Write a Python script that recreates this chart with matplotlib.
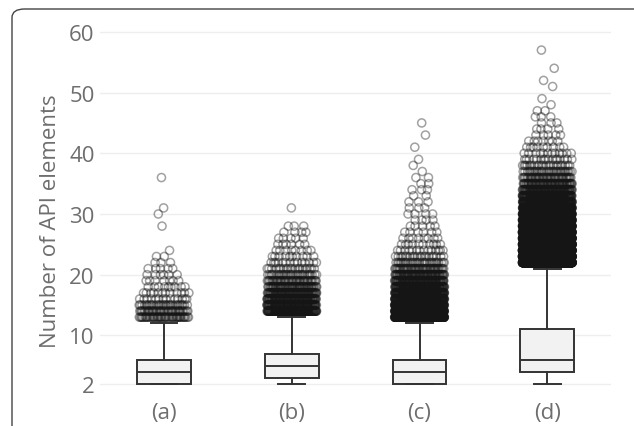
import numpy as np
import matplotlib.pyplot as plt
from matplotlib.patches import FancyBboxPatch

plt.rcParams['font.family'] = ['Open Sans', 'DejaVu Sans']

categories = ["(a)", "(b)", "(c)", "(d)"]
q1 = [2, 3, 2, 4]
medians = [4, 5, 4, 6]
q3 = [6, 7, 6, 11]
whisker_low = [2, 2, 2, 2]
whisker_high = [12, 13, 12, 21]
y_ticks = [2, 10, 20, 30, 40, 50, 60]

# outliers: value -> count (read from point density)
outliers_a = {13: 45, 14: 40, 15: 30, 16: 14, 17: 12, 18: 9, 19: 7, 20: 6,
              21: 5, 22: 3, 23: 2, 24: 1, 28: 1, 30: 1, 31: 1, 36: 1}
outliers_b = {14: 150, 15: 130, 16: 110, 17: 90, 18: 60, 19: 45, 20: 30,
              21: 20, 22: 14, 23: 10, 24: 8, 25: 6, 26: 5, 27: 4, 28: 3, 31: 1}
outliers_c = {13: 400, 14: 350, 15: 300, 16: 250, 17: 200, 18: 150, 19: 110,
              20: 80, 21: 50, 22: 30, 23: 20, 24: 14, 25: 10, 26: 8, 27: 6,
              28: 5, 29: 4, 30: 4, 31: 3, 32: 3, 33: 2, 34: 3, 35: 2, 36: 2,
              37: 1, 38: 1, 39: 1, 41: 1, 43: 1, 45: 1}
outliers_d = {22: 1000, 23: 950, 24: 900, 25: 820, 26: 740, 27: 650, 28: 560,
              29: 470, 30: 380, 31: 300, 32: 230, 33: 170, 34: 110, 35: 70,
              36: 45, 37: 32, 38: 22, 39: 16, 40: 12, 41: 9, 42: 7, 43: 5,
              44: 4, 45: 3, 46: 3, 47: 2, 48: 1, 49: 1, 51: 1, 52: 1, 54: 1, 57: 1}
all_outliers = [outliers_a, outliers_b, outliers_c, outliers_d]

fig = plt.figure(figsize=(6.34, 4.27), dpi=100)
ax = fig.add_axes([0.158, 0.075, 0.806, 0.8665])

box_w = 0.42
stats = []
for i in range(4):
    stats.append(dict(med=medians[i], q1=q1[i], q3=q3[i],
                      whislo=whisker_low[i], whishi=whisker_high[i], fliers=[]))

ax.bxp(stats, positions=range(4), widths=box_w, capwidths=box_w / 2,
       patch_artist=True, showfliers=False,
       boxprops=dict(facecolor='#f2f2f2', edgecolor='#333333', linewidth=1.4),
       medianprops=dict(color='#333333', linewidth=1.4),
       whiskerprops=dict(color='#333333', linewidth=1.4),
       capprops=dict(color='#333333', linewidth=1.4), zorder=2)

# spread the outlier points across the box width (narrower for sparse rows)
phi = 0.6180339887
for i, out in enumerate(all_outliers):
    xs, ys = [], []
    for v, n in out.items():
        spread = (box_w / 2 - 0.015) * min(1.0, np.sqrt(n / 12.0))
        k = np.arange(n)
        frac = (k * phi + 0.37 * v) % 1.0
        xs.extend(i + (frac * 2 - 1) * spread)
        ys.extend([v] * n)
    ax.scatter(xs, ys, s=34, facecolors='none', edgecolors='#151515',
               linewidths=1.1, alpha=0.4, zorder=3)

ax.set_xlim(-0.5, 3.5)
ax.set_ylim(0.35, 61.3)
ax.set_yticks(y_ticks)
ax.set_xticks(range(4))
ax.set_xticklabels(categories)
ax.grid(axis='y', color='#eeeeee', linewidth=1)
ax.set_axisbelow(True)
for s in ax.spines.values():
    s.set_visible(False)
ax.tick_params(length=0, labelsize=16, colors='#6e6e6e')
ax.tick_params(axis='y', pad=4)
ax.tick_params(axis='x', pad=6)
ax.set_ylabel("Number of API elements", fontsize=16, color='#6e6e6e')
ax.yaxis.set_label_coords(-0.076, 0.47)

frame = FancyBboxPatch((12 / 634, -0.1), 1.2, 1.1 - 10 / 427,
                       boxstyle="round,pad=0,rounding_size=0.02",
                       transform=fig.transFigure, facecolor='none',
                       edgecolor='#444444', linewidth=1.0, clip_on=False)
fig.patches.append(frame)

fig.savefig("out.png", dpi=100)
